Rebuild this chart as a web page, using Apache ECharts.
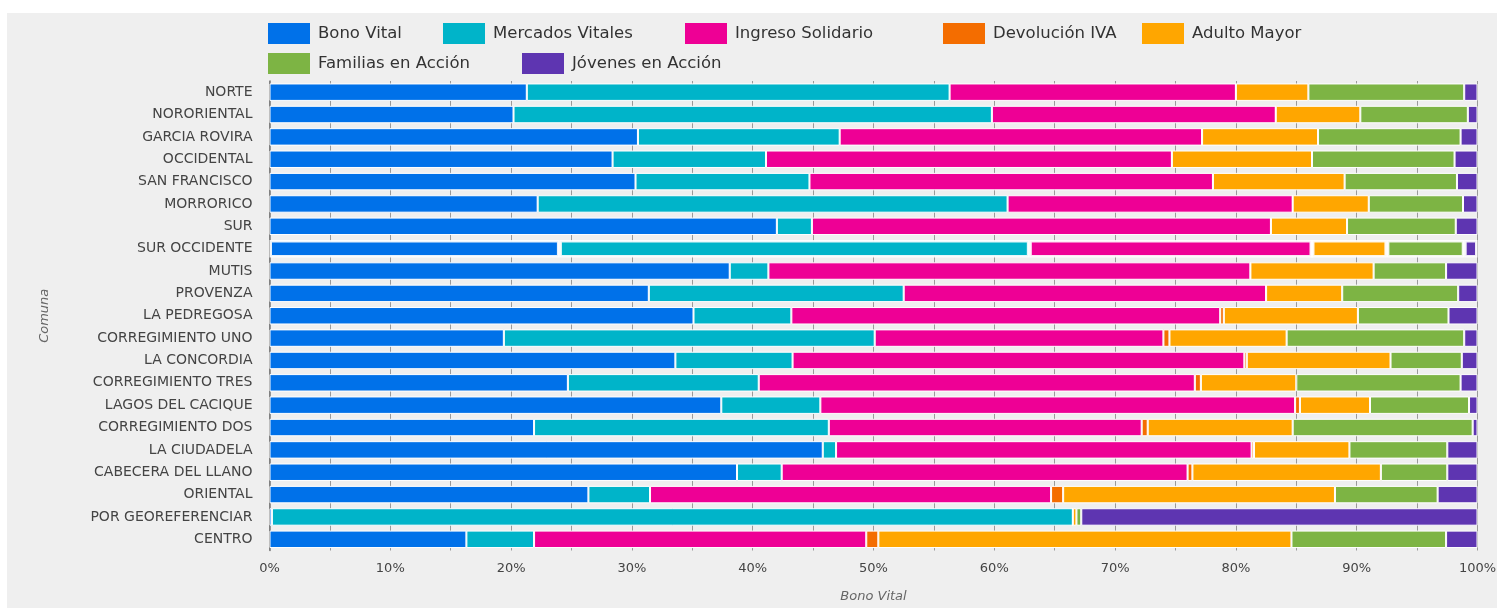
<!DOCTYPE html>
<html><head><meta charset="utf-8">
<script src="https://cdn.jsdelivr.net/npm/echarts@6/dist/echarts.min.js"></script>
<style>html,body{margin:0;padding:0;background:#fff;}
#c{position:absolute;left:7px;top:13px;width:1490px;height:595px;}</style>
</head><body><div id="c"></div>
<script>
const categories = ["NORTE","NORORIENTAL","GARCIA ROVIRA","OCCIDENTAL","SAN FRANCISCO","MORRORICO","SUR","SUR OCCIDENTE","MUTIS","PROVENZA","LA PEDREGOSA","CORREGIMIENTO UNO","LA CONCORDIA","CORREGIMIENTO TRES","LAGOS DEL CACIQUE","CORREGIMIENTO DOS","LA CIUDADELA","CABECERA DEL LLANO","ORIENTAL","POR GEOREFERENCIAR","CENTRO"];
const seriesNames = ["Bono Vital","Mercados Vitales","Ingreso Solidario","Devolución IVA","Adulto Mayor","Familias en Acción","Jóvenes en Acción"];
const bonoVital        = [21.3,20.2,30.5,28.4,30.3,22.2,42.0,24.0,38.1,31.4,35.1,19.4,33.6,24.7,37.4,21.9,45.8,38.7,26.4,0.2,16.3];
const mercadosVitales  = [35.0,39.6,16.7,12.7,14.4,38.9,2.9,38.9,3.2,21.1,8.1,30.7,9.7,15.8,8.2,24.4,1.1,3.7,5.1,66.3,5.6];
const ingresoSolidario = [23.7,23.5,30.0,33.6,33.4,23.6,38.0,23.4,39.9,30.0,35.5,23.9,37.4,36.1,39.3,25.9,34.4,33.6,33.2,0,27.5];
const devolucionIVA    = [0,0,0,0,0,0,0,0,0,0,0.3,0.5,0.2,0.5,0.4,0.5,0.2,0.4,1.0,0,1.0];
const adultoMayor      = [6.0,7.0,9.6,11.6,10.9,6.3,6.3,6.2,10.2,6.3,11.1,9.7,11.9,7.9,5.8,12.0,7.9,15.6,22.5,0.3,34.2];
const familiasAccion   = [12.9,8.9,11.8,11.8,9.3,7.8,9.0,6.4,6.0,9.6,7.5,14.7,5.9,13.6,8.2,14.9,8.1,5.5,8.5,0.4,12.8];
const jovenesAccion    = [1.1,0.8,1.4,1.9,1.7,1.2,1.8,1.1,2.6,1.6,2.4,1.1,1.3,1.4,0.7,0.4,2.5,2.5,3.3,32.8,2.6];
const xTicks = [0,10,20,30,40,50,60,70,80,90,100];
const highlighted = "SUR OCCIDENTE";

const colors = ["#0071e9","#00b4c9","#ee0095","#f46d00","#ffa600","#7db444","#5e35b1"];
const values = [bonoVital,mercadosVitales,ingresoSolidario,devolucionIVA,adultoMayor,familiasAccion,jovenesAccion];
// legend item placement (left, top) within the chart container
const legendLeft = [256, 431, 673, 931, 1130, 256, 510];
const legendTop  = [5, 5, 5, 5, 5, 35, 35];
const FONT = "DejaVu Sans";

const chart = echarts.init(document.getElementById('c'));
chart.setOption({
  backgroundColor: '#efefef',
  color: colors,
  animation: false,
  textStyle: {fontFamily: FONT},
  legend: seriesNames.map((n, i) => ({
    left: legendLeft[i], top: legendTop[i],
    itemWidth: 42, itemHeight: 21,
    icon: 'rect',
    itemStyle: {borderWidth: 0},
    textStyle: {fontFamily: FONT, fontSize: 16.5, color: '#333', padding: [0, 0, 0, 3]},
    data: [n]
  })),
  grid: {left: 262.5, right: 19.5, top: 68, height: 469.5, containLabel: false, outerBoundsMode: 'none'},
  xAxis: {
    type: 'value', min: 0, max: 100, interval: 10,
    name: 'Bono Vital', nameLocation: 'middle', nameGap: 40,
    nameTextStyle: {fontStyle: 'italic', color: '#666', fontSize: 13, fontFamily: FONT},
    axisLine: {show: false}, axisTick: {show: false},
    axisLabel: {formatter: v => xTicks.includes(v) ? v + '%' : '', color: '#444', fontSize: 13, margin: 12, fontFamily: FONT},
    splitLine: {show: true, lineStyle: {color: '#9a9a9a', width: 1}},
    minorTick: {show: false, splitNumber: 2},
    minorSplitLine: {show: true, lineStyle: {color: '#9a9a9a', width: 1}}
  },
  yAxis: {
    type: 'category', data: categories, inverse: true,
    name: 'Comuna', nameLocation: 'middle', nameGap: 218, nameRotate: 90,
    nameTextStyle: {fontStyle: 'italic', color: '#666', fontSize: 13, fontFamily: FONT},
    axisLine: {show: true, lineStyle: {color: '#777', width: 1.5}},
    axisTick: {show: false},
    axisLabel: {color: '#444', fontSize: 14, margin: 17, fontFamily: FONT}
  },
  series: seriesNames.map((n, i) => ({
    name: n, type: 'bar', stack: 'total', barCategoryGap: '22%',
    itemStyle: {borderColor: '#ffffff', borderWidth: 1},
    data: values[i].map((v, j) => categories[j] === highlighted
      ? {value: v, itemStyle: {borderColor: 'rgba(255,255,255,0.9)', borderWidth: 2.5}}
      : v)
  }))
});
</script></body></html>
